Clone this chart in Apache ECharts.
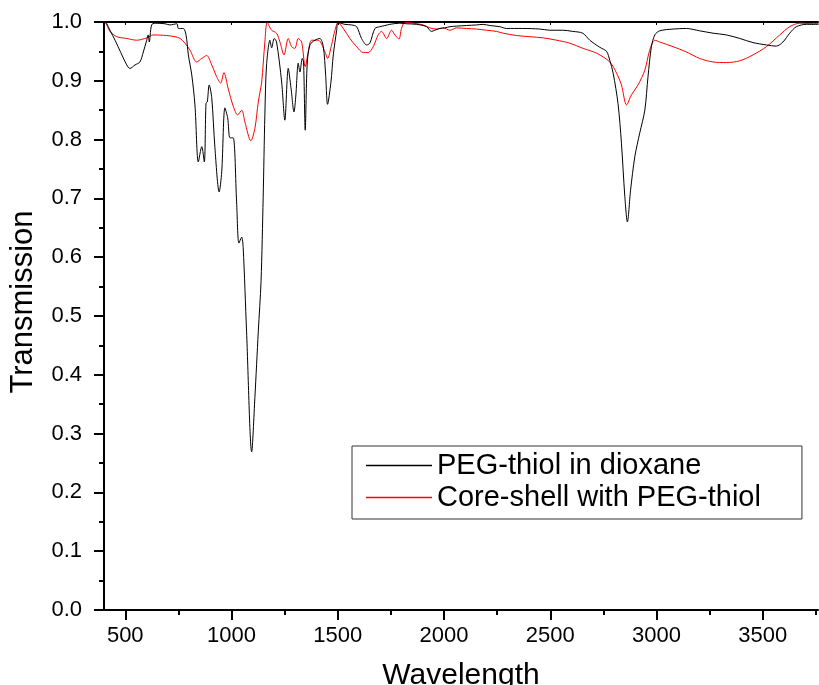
<!DOCTYPE html>
<html>
<head>
<meta charset="utf-8">
<script src="https://cdn.jsdelivr.net/npm/echarts@6/dist/echarts.min.js"></script>
<style>
html,body{margin:0;padding:0;background:#fff;}
#chart{width:819px;height:685px;}
</style>
</head>
<body>
<div id="chart"></div>
<script>
// PEG-thiol in dioxane (black)
var pegWave = [400,405,428,452,507,522,546,569,585,601,608,613,624,640,687,710,743,750,773,786,797,813,828,844,860,872,880,886,895,907,922,942,954,969,982,993,1008,1024,1035,1048,1055,1071,1095,1110,1126,1139,1149,1157,1165,1181,1189,1201,1212,1236,1251,1267,1280,1294,1303,1314,1322,1333,1339,1347,1356,1369,1393,1416,1432,1443,1452,1468,1479,1495,1502,1534,1565,1589,1612,1636,1651,1675,1698,1722,1745,1792,1824,1871,1918,1941,1957,1981,2004,2028,2059,2106,2153,2184,2216,2263,2294,2371,2451,2498,2559,2606,2653,2686,2733,2765,2780,2796,2819,2835,2851,2863,2878,2898,2921,2945,2960,2976,2992,3015,3078,3141,3203,3266,3329,3392,3454,3517,3564,3595,3627,3658,3705,3763];
var pegTrans = [0.998,1.0,0.986,0.969,0.927,0.921,0.927,0.932,0.949,0.969,0.978,0.966,0.995,0.998,0.997,0.995,0.997,0.989,0.989,0.978,0.944,0.910,0.859,0.762,0.788,0.762,0.862,0.864,0.893,0.871,0.786,0.711,0.745,0.854,0.837,0.803,0.803,0.694,0.624,0.634,0.616,0.473,0.269,0.361,0.473,0.559,0.701,0.842,0.927,0.969,0.956,0.972,0.966,0.898,0.833,0.921,0.888,0.847,0.876,0.930,0.915,0.938,0.932,0.816,0.927,0.961,0.969,0.972,0.958,0.910,0.860,0.898,0.944,0.986,0.999,0.996,0.995,0.992,0.972,0.961,0.964,0.989,0.992,0.994,0.996,0.998,0.997,0.996,0.992,0.984,0.986,0.989,0.990,0.992,0.993,0.994,0.995,0.996,0.994,0.992,0.989,0.989,0.988,0.986,0.986,0.984,0.981,0.969,0.957,0.950,0.935,0.913,0.861,0.794,0.703,0.660,0.714,0.771,0.811,0.850,0.907,0.958,0.978,0.985,0.988,0.989,0.985,0.981,0.978,0.972,0.965,0.961,0.959,0.966,0.981,0.992,0.996,0.996];

// Core-shell with PEG-thiol (red)
var coreWave = [403,413,428,460,507,554,601,632,695,734,758,781,805,836,860,883,907,930,949,964,985,1008,1029,1048,1063,1091,1110,1126,1142,1157,1168,1189,1212,1228,1247,1267,1283,1298,1314,1330,1347,1361,1377,1408,1440,1452,1471,1487,1502,1526,1557,1589,1620,1643,1667,1690,1706,1730,1753,1769,1788,1800,1816,1855,1902,1934,1965,1996,2028,2059,2106,2153,2200,2247,2278,2341,2404,2467,2530,2592,2655,2718,2780,2812,2835,2859,2882,2913,2945,2968,2992,3015,3078,3141,3203,3266,3329,3392,3454,3517,3580,3627,3674,3737,3763];
var coreTrans = [1.0,0.995,0.984,0.975,0.972,0.969,0.973,0.978,0.977,0.975,0.972,0.964,0.952,0.932,0.938,0.943,0.927,0.907,0.896,0.914,0.886,0.857,0.842,0.850,0.830,0.798,0.819,0.864,0.898,0.966,0.999,0.986,0.981,0.966,0.944,0.972,0.958,0.955,0.972,0.966,0.924,0.949,0.969,0.969,0.949,0.938,0.961,0.986,0.999,0.989,0.972,0.958,0.948,0.948,0.958,0.978,0.984,0.972,0.986,0.978,0.971,0.989,0.999,0.998,0.995,0.990,0.988,0.990,0.986,0.990,0.989,0.988,0.986,0.984,0.981,0.977,0.975,0.973,0.969,0.964,0.955,0.947,0.932,0.913,0.893,0.859,0.876,0.893,0.918,0.952,0.969,0.966,0.958,0.949,0.938,0.932,0.931,0.934,0.944,0.958,0.978,0.992,0.998,0.997,0.998];

var xMajor = [500,1000,1500,2000,2500,3000,3500];
var xMinor = [750,1250,1750,2250,2750,3250,3750];
var seriesNames = ['PEG-thiol in dioxane','Core-shell with PEG-thiol'];

function zip(a,b){ return a.map(function(v,i){ return [v,b[i]]; }); }

var FONT = '"Liberation Sans", Arial, sans-serif';
var XMIN = 400, XMAX = 3760;
var axisLine = {show:true, lineStyle:{color:'#000', width:2}};

var chart = echarts.init(document.getElementById('chart'), null, {renderer:'canvas'});
chart.setOption({
  animation:false,
  backgroundColor:'#fff',
  grid:{left:104, right:1, top:22, bottom:75, containLabel:false, outerBoundsMode:'none'},
  legend:{
    orient:'vertical', left:352, top:446,
    padding:[5,41,7,14], itemGap:3, itemWidth:66, itemHeight:1.5, icon:'rect',
    borderColor:'#333', borderWidth:1, borderRadius:0,
    textStyle:{fontFamily:FONT, fontSize:29, color:'#000'},
    data:seriesNames
  },
  xAxis:[
    {type:'value', min:XMIN, max:XMAX, position:'bottom',
     name:'Wavelength', nameLocation:'middle', nameGap:51,
     nameTextStyle:{fontFamily:FONT, fontSize:30, color:'#000'},
     axisLine:axisLine,
     axisTick:{show:true, inside:false, length:10, lineStyle:{color:'#000', width:2}, customValues:xMajor},
     axisLabel:{show:true, margin:15, fontFamily:FONT, fontSize:22, color:'#000', customValues:xMajor,
       formatter:function(v){ return String(v); }},
     splitLine:{show:false}},
    {type:'value', min:XMIN, max:XMAX, position:'bottom',
     axisLine:{show:false},
     axisTick:{show:true, inside:false, length:5, lineStyle:{color:'#000', width:2}, customValues:xMinor},
     axisLabel:{show:false}, splitLine:{show:false}},
    {type:'value', min:XMIN, max:XMAX, position:'top',
     axisLine:axisLine,
     axisTick:{show:true, inside:true, length:3, lineStyle:{color:'#000', width:1}, customValues:xMajor},
     axisLabel:{show:false}, splitLine:{show:false}}
  ],
  yAxis:[
    {type:'value', min:0, max:1, interval:0.1,
     axisLine:axisLine,
     axisTick:{show:true, inside:false, length:10, lineStyle:{color:'#000', width:2}},
     minorTick:{show:true, splitNumber:2, length:5, lineStyle:{color:'#000', width:2}},
     axisLabel:{margin:22, fontFamily:FONT, fontSize:22, color:'#000',
       formatter:function(v){ return v.toFixed(1); }},
     splitLine:{show:false}}
  ],
  graphic:[
    {type:'text', x:23, y:302, rotation:Math.PI/2,
     style:{text:'Transmission', font:'31px ' + FONT, fill:'#000', align:'center', verticalAlign:'middle'}}
  ],
  series:[
    {name:seriesNames[0], type:'line', xAxisIndex:0, yAxisIndex:0, data:zip(pegWave,pegTrans),
     symbol:'none', smooth:0.3, lineStyle:{color:'#000', width:1}, itemStyle:{color:'#000'}, z:3},
    {name:seriesNames[1], type:'line', xAxisIndex:0, yAxisIndex:0, data:zip(coreWave,coreTrans),
     symbol:'none', smooth:0.3, lineStyle:{color:'#ff0000', width:1}, itemStyle:{color:'#ff0000'}, z:2}
  ]
});
</script>
</body>
</html>
